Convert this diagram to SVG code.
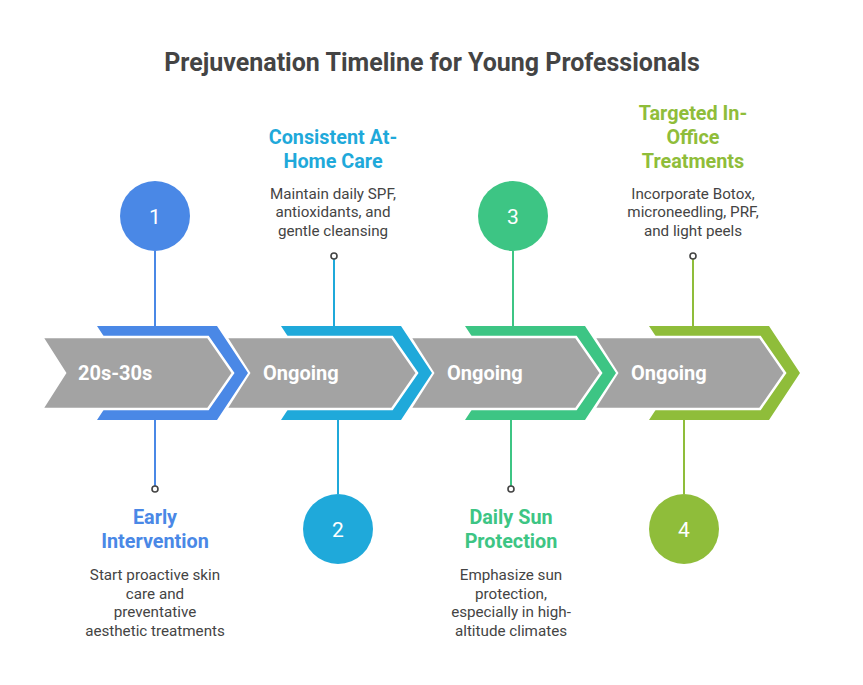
<svg xmlns="http://www.w3.org/2000/svg" width="863" height="685" viewBox="0 0 863 685">
<style>
text{font-family:Roboto,"Liberation Sans",sans-serif}
.title{font-size:25px;font-weight:bold;fill:#444;text-anchor:middle}
.grey{fill:#a3a3a3;stroke:#fff;stroke-width:2.5}
.stage{font-size:20px;font-weight:bold;fill:#fff}
.num{font-size:21px;fill:#fff;text-anchor:middle}
.head{font-size:19.8px;font-weight:bold;text-anchor:middle}
.desc{font-size:15.2px;fill:#444;text-anchor:middle}
.mk{fill:#fff;stroke:#444;stroke-width:1.6}
.ln{stroke-width:2;fill:none}
.c1{fill:#4a88e6}.c2{fill:#1fa9da}.c3{fill:#3dc584}.c4{fill:#8fbd3a}
.s1{stroke:#4a88e6}.s2{stroke:#1fa9da}.s3{stroke:#3dc584}.s4{stroke:#8fbd3a}
</style>
<rect width="863" height="685" fill="#fff"/>
<text class="title" x="432" y="71">Prejuvenation Timeline for Young Professionals</text>
<g id="timeline">
<polygon class="c4" points="649,326 769,326 800,373 769,420 649,420 680,373"/>
<polygon class="grey" points="594,337 760,337 785,373 760,409 594,409 617,373"/>
<polygon class="c3" points="465,326 585,326 616,373 585,420 465,420 496,373"/>
<polygon class="grey" points="410,337 576,337 601,373 576,409 410,409 433,373"/>
<polygon class="c2" points="281,326 401,326 432,373 401,420 281,420 312,373"/>
<polygon class="grey" points="226,337 392,337 417,373 392,409 226,409 249,373"/>
<polygon class="c1" points="97,326 217,326 248,373 217,420 97,420 128,373"/>
<polygon class="grey" points="42,337 208,337 233,373 208,409 42,409 65,373"/>
<text class="stage" x="78" y="380">20s-30s</text>
<text class="stage" x="263" y="380">Ongoing</text>
<text class="stage" x="447" y="380">Ongoing</text>
<text class="stage" x="631" y="380">Ongoing</text>
</g>
<g id="connectors">
<line class="ln s1" x1="155" y1="251" x2="155" y2="326"/>
<line class="ln s1" x1="155" y1="420" x2="155" y2="486"/>
<line class="ln s2" x1="334" y1="259" x2="334" y2="326"/>
<line class="ln s2" x1="338" y1="420" x2="338" y2="494"/>
<line class="ln s3" x1="513" y1="251" x2="513" y2="326"/>
<line class="ln s3" x1="511" y1="420" x2="511" y2="486"/>
<line class="ln s4" x1="693" y1="259" x2="693" y2="326"/>
<line class="ln s4" x1="684" y1="420" x2="684" y2="494"/>
</g>
<g id="step1">
<circle class="c1" cx="155" cy="216" r="35"/>
<text class="num" x="155" y="224">1</text>
<circle class="mk" cx="155" cy="489" r="3"/>
<text class="head" fill="#4a88e6" x="155" y="524">Early</text>
<text class="head" fill="#4a88e6" x="155" y="548">Intervention</text>
<text class="desc" x="155" y="580">Start proactive skin</text>
<text class="desc" x="155" y="599">care and</text>
<text class="desc" x="155" y="617">preventative</text>
<text class="desc" x="155" y="636">aesthetic treatments</text>
</g>
<g id="step2">
<circle class="c2" cx="338" cy="529" r="35"/>
<text class="num" x="338" y="537">2</text>
<circle class="mk" cx="334" cy="256" r="3"/>
<text class="head" fill="#1fa9da" x="333" y="144">Consistent At-</text>
<text class="head" fill="#1fa9da" x="333" y="168">Home Care</text>
<text class="desc" x="333" y="199">Maintain daily SPF,</text>
<text class="desc" x="333" y="217">antioxidants, and</text>
<text class="desc" x="333" y="236">gentle cleansing</text>
</g>
<g id="step3">
<circle class="c3" cx="513" cy="216" r="35"/>
<text class="num" x="513" y="224">3</text>
<circle class="mk" cx="511" cy="489" r="3"/>
<text class="head" fill="#3dc584" x="511" y="524">Daily Sun</text>
<text class="head" fill="#3dc584" x="511" y="548">Protection</text>
<text class="desc" x="511" y="580">Emphasize sun</text>
<text class="desc" x="511" y="599">protection,</text>
<text class="desc" x="511" y="617">especially in high-</text>
<text class="desc" x="511" y="636">altitude climates</text>
</g>
<g id="step4">
<circle class="c4" cx="684" cy="529" r="35"/>
<text class="num" x="684" y="537">4</text>
<circle class="mk" cx="693" cy="256" r="3"/>
<text class="head" fill="#8fbd3a" x="693" y="120">Targeted In-</text>
<text class="head" fill="#8fbd3a" x="693" y="144">Office</text>
<text class="head" fill="#8fbd3a" x="693" y="168">Treatments</text>
<text class="desc" x="693" y="199">Incorporate Botox,</text>
<text class="desc" x="693" y="217">microneedling, PRF,</text>
<text class="desc" x="693" y="236">and light peels</text>
</g>
</svg>
